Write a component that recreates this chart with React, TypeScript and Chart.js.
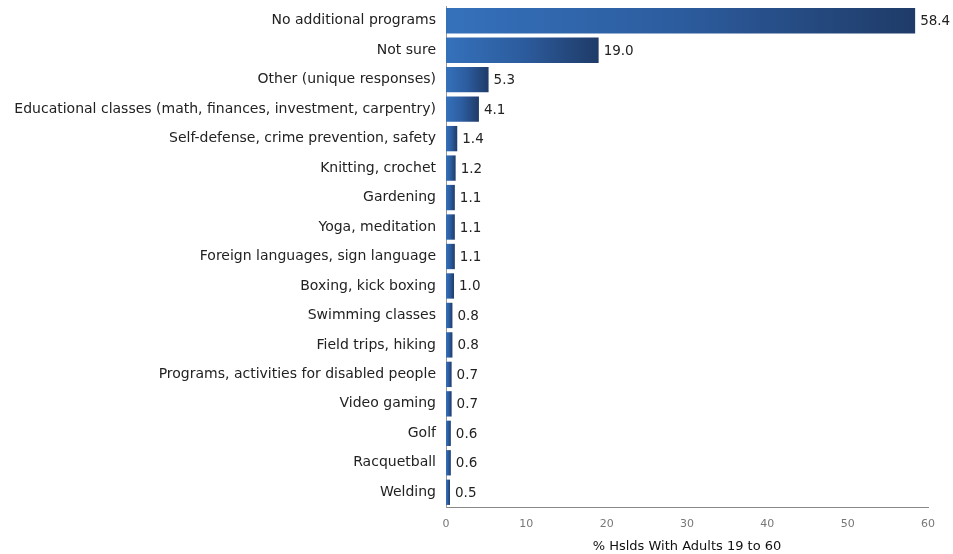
import React, { useEffect, useRef } from "react";
import { Chart, registerables } from "chart.js";

Chart.register(...registerables);

const categories = [
  "No additional programs",
  "Not sure",
  "Other (unique responses)",
  "Educational classes (math, finances, investment, carpentry)",
  "Self-defense, crime prevention, safety",
  "Knitting, crochet",
  "Gardening",
  "Yoga, meditation",
  "Foreign languages, sign language",
  "Boxing, kick boxing",
  "Swimming classes",
  "Field trips, hiking",
  "Programs, activities for disabled people",
  "Video gaming",
  "Golf",
  "Racquetball",
  "Welding",
];

const values = [58.4, 19.0, 5.3, 4.1, 1.4, 1.2, 1.1, 1.1, 1.1, 1.0, 0.8, 0.8, 0.7, 0.7, 0.6, 0.6, 0.5];

const xTicks = [0, 10, 20, 30, 40, 50, 60];
const xTitle = "% Hslds With Adults 19 to 60";

const FONT = "'DejaVu Sans', Verdana, sans-serif";

const valueLabels = {
  id: "valueLabels",
  afterDatasetsDraw(chart: any) {
    const ctx = chart.ctx;
    const meta = chart.getDatasetMeta(0);
    ctx.save();
    ctx.font = `13.5px ${FONT}`;
    ctx.fillStyle = "#222";
    ctx.textBaseline = "middle";
    ctx.textAlign = "left";
    meta.data.forEach((bar: any, i: number) => {
      ctx.fillText(values[i].toFixed(1), bar.x + 5, bar.y + 1);
    });
    ctx.restore();
  },
};

export default function App() {
  const ref = useRef<HTMLCanvasElement>(null);
  useEffect(() => {
    document.body.style.margin = "0";
    const chart = new Chart(ref.current!, {
      type: "bar",
      data: {
        labels: categories,
        datasets: [
          {
            data: values,
            barPercentage: 0.86,
            categoryPercentage: 1,
            backgroundColor: (c: any) => {
              const ch = c.chart;
              const xs = ch.scales?.x;
              if (!xs || c.dataIndex === undefined) return "#2d5aa0";
              const x0 = xs.getPixelForValue(0);
              const x1 = xs.getPixelForValue(values[c.dataIndex]);
              if (!isFinite(x0) || !isFinite(x1) || x1 - x0 < 1) return "#2d5aa0";
              const g = ch.ctx.createLinearGradient(x0, 0, x1, 0);
              g.addColorStop(0, "#3571bb");
              g.addColorStop(0.5, "#2c5c9e");
              g.addColorStop(1, "#1f3b68");
              return g;
            },
            borderWidth: 0,
          },
        ],
      },
      options: {
        indexAxis: "y",
        animation: false,
        responsive: false,
        maintainAspectRatio: false,
        layout: { padding: { top: 6, right: 25, left: 0, bottom: 0 } },
        plugins: { legend: { display: false }, tooltip: { enabled: false } },
        scales: {
          x: {
            min: 0,
            max: 60,
            afterBuildTicks: (s: any) => {
              s.ticks = xTicks.map((v) => ({ value: v }));
            },
            afterFit: (s: any) => {
              s.height = 47;
              s.paddingLeft = 0;
              s.paddingRight = 0;
            },
            grid: { display: false, drawTicks: false },
            border: { display: true, color: "#888", width: 1 },
            ticks: {
              color: "#777",
              font: { family: FONT, size: 11 },
              padding: 11,
            },
            title: {
              display: true,
              text: xTitle,
              color: "#111",
              font: { family: FONT, size: 13, weight: "normal" },
              padding: { top: 3, bottom: 0 },
            },
          },
          y: {
            afterFit: (s: any) => {
              s.width = 446;
              s.paddingTop = 0;
              s.paddingBottom = 0;
            },
            grid: { display: false, drawTicks: false },
            border: { display: true, color: "#999", width: 1 },
            ticks: {
              color: "#222",
              font: { family: FONT, size: 14 },
              padding: 10,
              autoSkip: false,
            },
          },
        },
      },
      plugins: [valueLabels],
    });
    return () => chart.destroy();
  }, []);
  return (
    <div style={{ width: 953, height: 554 }}>
      <canvas ref={ref} width={953} height={554} style={{ display: "block" }} />
    </div>
  );
}
